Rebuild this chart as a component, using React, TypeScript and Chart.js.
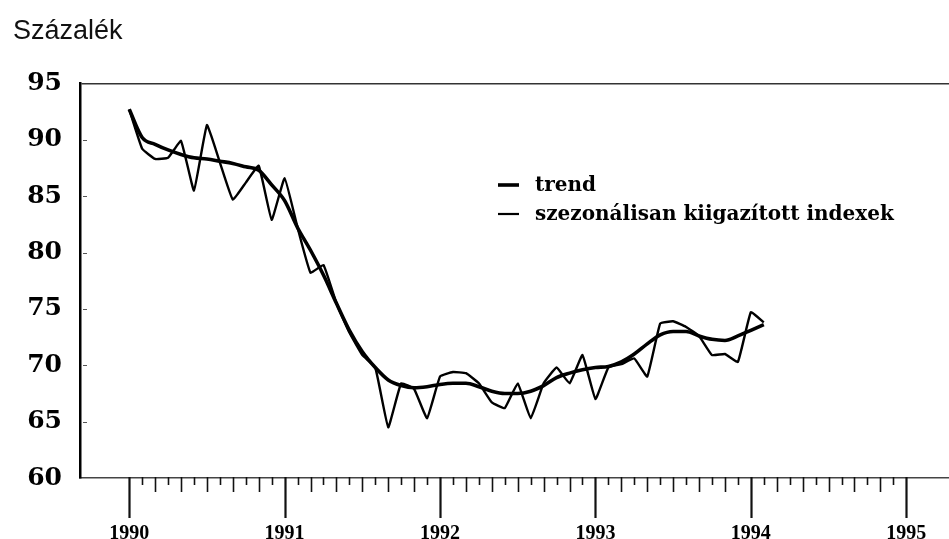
import React, { useEffect, useRef } from 'react';
import { Chart, registerables } from 'chart.js';

Chart.register(...registerables);

// Monthly observations, January 1990 (index 0) to February 1994 (index 49)
const startYear = 1990;

const trendValues = [
  92.7, 90.2, 89.6, 89.1, 88.7, 88.4, 88.3, 88.1, 87.9, 87.6, 87.3, 86.0,
  84.6, 82.2, 80.2, 78.0, 75.5, 73.1, 71.2, 69.8, 68.7, 68.2, 68.0, 68.1,
  68.3, 68.4, 68.4, 68.1, 67.7, 67.5, 67.5, 67.7, 68.2, 68.9, 69.3, 69.6,
  69.8, 69.9, 70.3, 71.0, 71.9, 72.7, 73.0, 73.0, 72.6, 72.3, 72.2, 72.6,
  73.1, 73.6,
];

const seasonalValues = [
  92.7, 89.2, 88.3, 88.4, 89.9, 85.5, 91.3, 88.0, 84.7, 86.2, 87.7, 82.9,
  86.6, 82.2, 78.2, 78.9, 75.5, 72.9, 70.9, 69.8, 64.5, 68.4, 67.9, 65.3,
  69.0, 69.4, 69.3, 68.4, 66.7, 66.2, 68.4, 65.3, 68.4, 69.8, 68.4, 70.9,
  67.0, 69.8, 70.1, 70.6, 69.0, 73.7, 73.9, 73.4, 72.6, 70.9, 71.0, 70.3,
  74.7, 73.8,
];

const seriesLabels = ['trend', 'szezonálisan kiigazított indexek'];
const yearTicks = [0, 12, 24, 36, 48, 60];
const yearLabels = ['1990', '1991', '1992', '1993', '1994', '1995'];
const yTicks = [60, 65, 70, 75, 80, 85, 90, 95];
const titleText = 'Százalék';

const decorPlugin = {
  id: 'decor',
  afterDraw(chart: any) {
    const { ctx, chartArea, scales } = chart;
    const x = scales.x;
    const y = scales.y;
    ctx.save();
    // month ticks below the baseline
    const base = chartArea.bottom;
    ctx.strokeStyle = '#111';
    const lastTick = yearTicks[yearTicks.length - 1];
    for (let m = yearTicks[0]; m <= lastTick; m++) {
      const px = Math.round(x.getPixelForValue(m)) + 0.5;
      const isYear = m % 12 === 0;
      const len = isYear ? 40 : m % 2 === 0 ? 14 : 7;
      ctx.lineWidth = isYear ? 2.2 : 1.6;
      ctx.beginPath();
      ctx.moveTo(px, base - 1);
      ctx.lineTo(px, base + len);
      ctx.stroke();
    }
    // small dashes on the value axis
    ctx.strokeStyle = '#555';
    ctx.lineWidth = 1;
    yTicks.forEach((v) => {
      if (v === yTicks[0] || v === yTicks[yTicks.length - 1]) return;
      const py = Math.round(y.getPixelForValue(v)) + 0.5;
      ctx.beginPath();
      ctx.moveTo(chartArea.left + 3, py);
      ctx.lineTo(chartArea.left + 7, py);
      ctx.stroke();
    });
    // legend
    const lx = 498;
    const rows = [185, 214];
    const widths = [3.6, 2.2];
    ctx.fillStyle = '#000';
    ctx.strokeStyle = '#000';
    ctx.font = 'bold 20px "DejaVu Serif"';
    ctx.textBaseline = 'middle';
    ctx.textAlign = 'left';
    chart.data.datasets.forEach((ds: any, i: number) => {
      ctx.lineWidth = widths[i];
      ctx.beginPath();
      ctx.moveTo(lx, rows[i]);
      ctx.lineTo(lx + 21, rows[i]);
      ctx.stroke();
      ctx.fillText(ds.label, lx + 37, rows[i] + 1);
    });
    ctx.restore();
  },
};

export default function App() {
  const canvasRef = useRef<HTMLCanvasElement | null>(null);

  useEffect(() => {
    document.body.style.margin = '0';
    const canvas = canvasRef.current;
    if (!canvas) return;
    const chart = new Chart(canvas, {
      type: 'line',
      data: {
        datasets: [
          {
            label: seriesLabels[0],
            data: trendValues.map((v, i) => ({ x: i, y: v })),
            borderColor: '#000',
            borderWidth: 3.6,
            pointRadius: 0,
            cubicInterpolationMode: 'monotone',
            fill: false,
          },
          {
            label: seriesLabels[1],
            data: seasonalValues.map((v, i) => ({ x: i, y: v })),
            borderColor: '#000',
            borderWidth: 2.4,
            pointRadius: 0,
            tension: 0.1,
            fill: false,
          },
        ],
      },
      options: {
        responsive: false,
        animation: false,
        layout: { padding: { left: 13, right: 0, top: 0, bottom: 0 } },
        plugins: {
          legend: { display: false },
          tooltip: { enabled: false },
          title: {
            display: true,
            text: titleText,
            align: 'start',
            color: '#111',
            font: { family: '"Liberation Sans"', size: 27, weight: 'normal', lineHeight: 1.2 },
            padding: { top: 15, bottom: 36 },
          },
        },
        scales: {
          x: {
            type: 'linear',
            min: -3.8,
            max: 63.3,
            afterBuildTicks: (s: any) => {
              s.ticks = yearTicks.map((v) => ({ value: v }));
            },
            afterFit: (s: any) => {
              s.height = 61;
              s.paddingLeft = 0;
              s.paddingRight = 0;
            },
            grid: { display: false, drawTicks: false },
            border: { display: true, color: '#444', width: 1.5, dash: [4, 2] },
            ticks: {
              autoSkip: false,
              maxRotation: 0,
              padding: 44,
              color: '#000',
              font: { family: '"Liberation Serif"', size: 20, weight: 'bold' },
              callback: (v: any) => {
                const idx = yearTicks.indexOf(Number(v));
                return idx >= 0 ? yearLabels[idx] : '';
              },
            },
          },
          y: {
            min: yTicks[0],
            max: yTicks[yTicks.length - 1],
            afterBuildTicks: (s: any) => {
              s.ticks = yTicks.map((v) => ({ value: v }));
            },
            afterFit: (s: any) => {
              s.width = 67;
            },
            grid: {
              display: true,
              drawTicks: false,
              color: (c: any) => (c.tick && c.tick.value === yTicks[yTicks.length - 1] ? '#333' : 'rgba(0,0,0,0)'),
              lineWidth: 1.5,
            },
            border: { display: true, color: '#000', width: 2.5 },
            ticks: {
              padding: 18,
              color: '#000',
              font: { family: '"DejaVu Serif"', size: 25, weight: 'bold' },
            },
          },
        },
      },
      plugins: [decorPlugin],
    } as any);
    return () => chart.destroy();
  }, []);

  return (
    <div style={{ position: 'fixed', left: 0, top: 0, width: 949, height: 539, background: '#fff' }}>
      <canvas ref={canvasRef} width={949} height={539} />
    </div>
  );
}
